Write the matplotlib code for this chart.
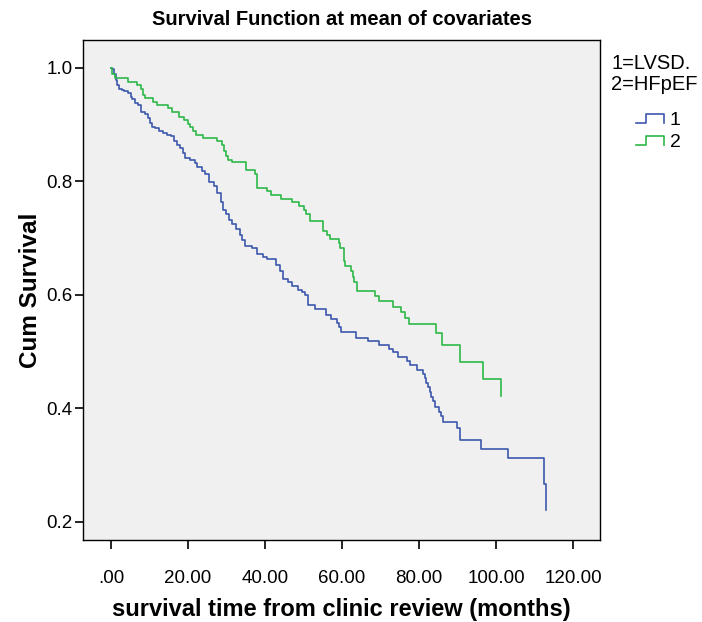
import numpy as np
from matplotlib import pyplot as plt
from matplotlib.lines import Line2D
from matplotlib.legend_handler import HandlerBase

plt.rcParams['font.family'] = ['Liberation Sans', 'DejaVu Sans']

# survival steps: time of each drop and survival after it
time_lvsd = [0, 0.34, 0.78, 1.22, 1.64, 2.08, 2.78, 3.38, 4.49, 5.12, 5.53, 6.31, 7.09, 7.79,
             8.83, 9.69, 10.13, 10.73, 11.43, 12.55, 13.43, 14.47, 15.51, 16.36, 17.22, 17.92,
             18.78, 19.30, 20.52, 21.82, 22.42, 23.64, 24.42, 25.53, 26.68, 27.45, 28.65, 29.17,
             29.79, 30.65, 31.51, 32.39, 33.51, 34.10, 34.81, 36.55, 38.00, 39.40, 40.44, 42.78,
             43.90, 44.75, 45.90, 46.94, 48.65, 49.69, 50.47, 51.17, 52.99, 55.77, 57.06, 58.78,
             59.30, 59.66, 63.56, 66.83, 69.61, 72.13, 73.32, 74.55, 76.88, 77.66, 79.48, 81.12,
             81.48, 81.82, 82.42, 82.78, 83.04, 83.64, 84.08, 85.12, 85.71, 86.31, 89.74, 90.65,
             96.10, 102.99, 112.47, 112.99]
surv_lvsd = [1.0, 0.997, 0.988, 0.979, 0.970, 0.963, 0.960, 0.958, 0.955, 0.948, 0.944, 0.938,
             0.934, 0.922, 0.918, 0.911, 0.903, 0.895, 0.893, 0.889, 0.885, 0.881, 0.879, 0.870,
             0.864, 0.859, 0.850, 0.841, 0.838, 0.832, 0.825, 0.817, 0.812, 0.799, 0.791, 0.780,
             0.764, 0.750, 0.743, 0.732, 0.725, 0.716, 0.706, 0.697, 0.686, 0.682, 0.671, 0.666,
             0.663, 0.653, 0.641, 0.628, 0.622, 0.615, 0.609, 0.604, 0.600, 0.582, 0.574, 0.565,
             0.558, 0.550, 0.543, 0.535, 0.524, 0.518, 0.512, 0.505, 0.499, 0.491, 0.484, 0.476,
             0.468, 0.460, 0.453, 0.444, 0.437, 0.429, 0.420, 0.412, 0.403, 0.394, 0.386, 0.375,
             0.366, 0.344, 0.329, 0.313, 0.267, 0.221]

time_hfpef = [0, 0.34, 1.04, 4.49, 6.68, 7.71, 8.39, 8.91, 10.99, 11.87, 14.73, 15.77, 17.66,
              18.96, 19.92, 20.52, 21.38, 22.00, 23.82, 27.61, 28.83, 29.43, 29.74, 30.31, 31.43,
              34.99, 37.40, 37.79, 38.00, 40.44, 41.48, 44.16, 46.94, 48.83, 50.13, 50.57, 51.69,
              55.06, 56.03, 56.81, 59.14, 59.48, 60.44, 60.86, 62.34, 62.78, 63.19, 63.82, 68.49,
              69.53, 73.32, 75.32, 76.23, 77.48, 84.49, 86.05, 90.65, 96.62, 101.30]
surv_hfpef = [1.0, 0.988, 0.981, 0.975, 0.969, 0.963, 0.951, 0.947, 0.940, 0.935, 0.929, 0.922,
              0.913, 0.907, 0.901, 0.896, 0.888, 0.882, 0.876, 0.870, 0.864, 0.853, 0.845, 0.838,
              0.833, 0.820, 0.813, 0.801, 0.788, 0.782, 0.775, 0.769, 0.763, 0.756, 0.750, 0.743,
              0.729, 0.713, 0.706, 0.698, 0.691, 0.682, 0.659, 0.650, 0.641, 0.632, 0.623, 0.607,
              0.597, 0.588, 0.578, 0.569, 0.559, 0.549, 0.533, 0.511, 0.481, 0.452, 0.422]

x_ticks = [0, 20, 40, 60, 80, 100, 120]
x_labels = ['.00', '20.00', '40.00', '60.00', '80.00', '100.00', '120.00']
y_ticks = [0.2, 0.4, 0.6, 0.8, 1.0]
y_labels = ['0.2', '0.4', '0.6', '0.8', '1.0']

BLUE = '#3E58AC'
GREEN = '#2EB848'


class StepHandler(HandlerBase):
    # the little step glyph SPSS uses in survival legends
    def create_artists(self, legend, orig_handle, xdescent, ydescent, width, height, fontsize, trans):
        xs = np.array([0, 0.35, 0.35, 1.0, 1.0]) * width - xdescent
        ys = np.array([0.1, 0.1, 0.75, 0.75, 0.1]) * height - ydescent
        ln = Line2D(xs, ys, color=orig_handle.get_color(), lw=1.2)
        ln.set_transform(trans)
        return [ln]


fig = plt.figure(figsize=(7.02, 6.22), dpi=100)
ax = fig.add_axes([0.118, 0.132, 0.737, 0.804])
ax.set_facecolor('#F0F0F0')

l1, = ax.step(time_lvsd, surv_lvsd, where='post', color=BLUE, lw=1.2)
l2, = ax.step(time_hfpef, surv_hfpef, where='post', color=GREEN, lw=1.2)

ax.set_xlim(-7.3, 127.0)
ax.set_ylim(0.168, 1.049)
ax.set_xticks(x_ticks)
ax.set_xticklabels(x_labels)
ax.set_yticks(y_ticks)
ax.set_yticklabels(y_labels)
ax.tick_params(direction='out', length=5.5, width=1.2, labelsize=13.5, colors='black')
ax.tick_params(axis='x', length=6.5, pad=15)
ax.tick_params(axis='y', pad=2)
for s in ax.spines.values():
    s.set_linewidth(1.0)
    s.set_color('black')

ax.set_title('Survival Function at mean of covariates', fontsize=14.5, fontweight='bold', pad=11)
ax.set_xlabel('survival time from clinic review (months)', fontsize=17, fontweight='bold', labelpad=8)
ax.set_ylabel('Cum Survival', fontsize=17.5, fontweight='bold', labelpad=3)

fig.text(0.871, 0.881, '1=LVSD.\n2=HFpEF', fontsize=14.5, ha='left', va='center', linespacing=1.1)
ax.legend([l1, l2], ['1', '2'], handler_map={Line2D: StepHandler()},
          loc='upper left', bbox_to_anchor=(1.054, 0.873), frameon=False,
          fontsize=14, handlelength=1.45, handletextpad=0.3, labelspacing=0.22,
          borderaxespad=0)

fig.savefig('out.png', dpi=100)
